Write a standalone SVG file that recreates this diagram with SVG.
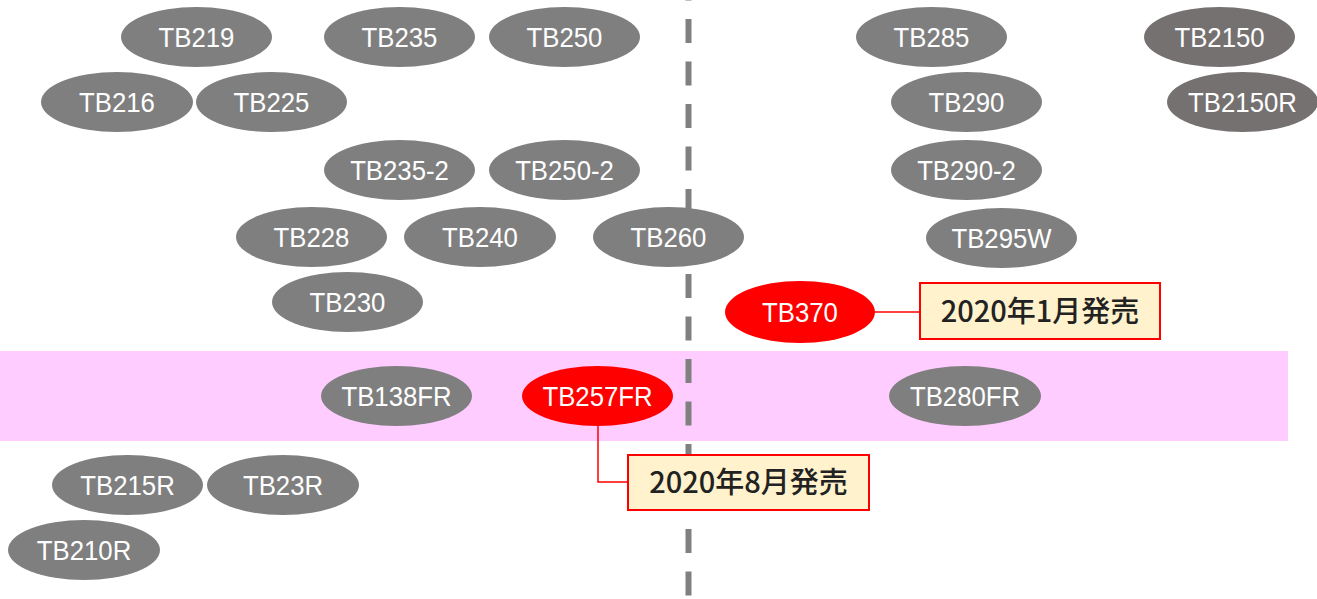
<svg xmlns="http://www.w3.org/2000/svg" width="1317" height="599" viewBox="0 0 1317 599">
<style>
.n ellipse{fill:#7F7F7F}
.d ellipse{fill:#767171}
.r ellipse{fill:#FF0000}
.n text{font-family:"Liberation Sans",Arial,sans-serif;font-size:28px;fill:#FFFFFF;text-anchor:middle}
.lb rect{fill:#FFF2CC;stroke:#FF0000;stroke-width:2}
.lb text{font-family:"Noto Sans CJK JP","Liberation Sans",sans-serif;font-size:29px;font-weight:500;fill:#222222;text-anchor:middle}
.c line,.c polyline{stroke:#FF0000;stroke-width:1.5;fill:none}
</style>
<rect width="1317" height="599" fill="#FFFFFF"/>
<rect id="band" x="0" y="351" width="1288" height="90" fill="#FFCCFF"/>
<line id="divider" x1="688.5" y1="-23.5" x2="688.5" y2="597" stroke="#808080" stroke-width="6" stroke-dasharray="24 18.5"/>
<g id="connectors" class="c">
<line x1="875" y1="312" x2="920" y2="312"/>
<polyline points="598,426 598,482 628,482"/>
</g>
<g id="TB219" class="n" transform="translate(196.5,37)"><ellipse rx="75.5" ry="30"/><text y="10" transform="scale(0.92,1)">TB219</text></g>
<g id="TB235" class="n" transform="translate(399.5,37)"><ellipse rx="75.5" ry="30"/><text y="10" transform="scale(0.92,1)">TB235</text></g>
<g id="TB250" class="n" transform="translate(564.5,37)"><ellipse rx="75.5" ry="30"/><text y="10" transform="scale(0.92,1)">TB250</text></g>
<g id="TB285" class="n" transform="translate(931.5,37)"><ellipse rx="75.5" ry="30"/><text y="10" transform="scale(0.92,1)">TB285</text></g>
<g id="TB2150" class="n d" transform="translate(1219.5,37)"><ellipse rx="75.5" ry="30"/><text y="10" transform="scale(0.92,1)">TB2150</text></g>
<g id="TB216" class="n" transform="translate(117,102)"><ellipse rx="76" ry="30"/><text y="10" transform="scale(0.92,1)">TB216</text></g>
<g id="TB225" class="n" transform="translate(271.5,102)"><ellipse rx="75.5" ry="30"/><text y="10" transform="scale(0.92,1)">TB225</text></g>
<g id="TB290" class="n" transform="translate(966.5,102)"><ellipse rx="75.5" ry="30"/><text y="10" transform="scale(0.92,1)">TB290</text></g>
<g id="TB2150R" class="n d" transform="translate(1242.5,102)"><ellipse rx="75.5" ry="30"/><text y="10" transform="scale(0.92,1)">TB2150R</text></g>
<g id="TB235-2" class="n" transform="translate(399.5,170)"><ellipse rx="75.5" ry="30"/><text y="10" transform="scale(0.92,1)">TB235-2</text></g>
<g id="TB250-2" class="n" transform="translate(564.5,170)"><ellipse rx="75.5" ry="30"/><text y="10" transform="scale(0.92,1)">TB250-2</text></g>
<g id="TB290-2" class="n" transform="translate(966.5,170)"><ellipse rx="75.5" ry="30"/><text y="10" transform="scale(0.92,1)">TB290-2</text></g>
<g id="TB228" class="n" transform="translate(311.5,237)"><ellipse rx="75.5" ry="30"/><text y="10" transform="scale(0.92,1)">TB228</text></g>
<g id="TB240" class="n" transform="translate(480,237)"><ellipse rx="76" ry="30"/><text y="10" transform="scale(0.92,1)">TB240</text></g>
<g id="TB260" class="n" transform="translate(668.5,237)"><ellipse rx="75.5" ry="30"/><text y="10" transform="scale(0.92,1)">TB260</text></g>
<g id="TB295W" class="n" transform="translate(1001.5,238)"><ellipse rx="75.5" ry="30"/><text y="10" transform="scale(0.92,1)">TB295W</text></g>
<g id="TB230" class="n" transform="translate(347.5,302)"><ellipse rx="75.5" ry="30"/><text y="10" transform="scale(0.92,1)">TB230</text></g>
<g id="TB370" class="n r" transform="translate(800,312)"><ellipse rx="75" ry="31"/><text y="10" transform="scale(0.92,1)">TB370</text></g>
<g id="TB138FR" class="n" transform="translate(396.5,396)"><ellipse rx="75.5" ry="30"/><text y="10" transform="scale(0.92,1)">TB138FR</text></g>
<g id="TB257FR" class="n r" transform="translate(597.5,396)"><ellipse rx="75.5" ry="30"/><text y="10" transform="scale(0.92,1)">TB257FR</text></g>
<g id="TB280FR" class="n" transform="translate(965,396)"><ellipse rx="76" ry="30"/><text y="10" transform="scale(0.92,1)">TB280FR</text></g>
<g id="TB215R" class="n" transform="translate(127.5,485)"><ellipse rx="75.5" ry="30"/><text y="10" transform="scale(0.92,1)">TB215R</text></g>
<g id="TB23R" class="n" transform="translate(283,485)"><ellipse rx="76" ry="30"/><text y="10" transform="scale(0.92,1)">TB23R</text></g>
<g id="TB210R" class="n" transform="translate(84,550)"><ellipse rx="76" ry="30"/><text y="10" transform="scale(0.92,1)">TB210R</text></g>
<g id="label-jan" class="lb"><rect x="920" y="283" width="240" height="56"/><text x="1040" y="322">2020年1月発売</text></g>
<g id="label-aug" class="lb"><rect x="628" y="455" width="241" height="55"/><text x="748.5" y="493">2020年8月発売</text></g>
</svg>
